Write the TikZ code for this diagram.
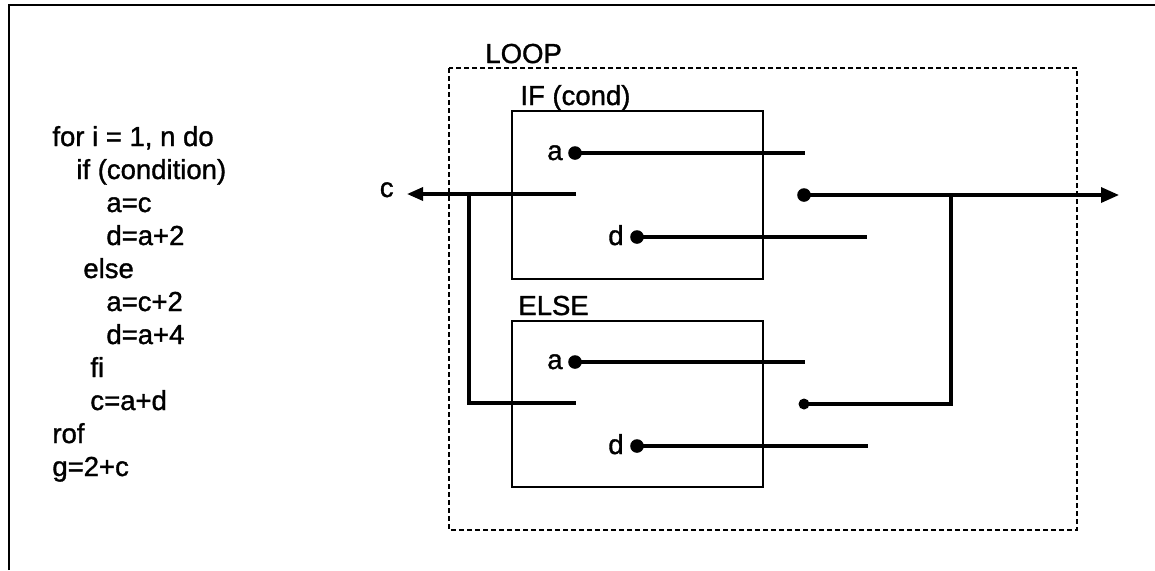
\documentclass[tikz,border=0pt]{standalone}
\usepackage{fontspec}
\setmainfont[FakeBold=1.2,AutoFakeBold=1.2]{Liberation Sans}
\usetikzlibrary{arrows.meta}
\begin{document}
\begin{tikzpicture}[x=0.5pt,y=-0.5pt,
  txt/.style={inner sep=0pt,font=\fontsize{13.75}{16}\selectfont\bfseries,anchor=base west},
  lbl/.style={txt,anchor=base east},
  wire/.style={line width=1.65pt},
  box/.style={line width=0.75pt},
  loopbox/.style={line width=0.75pt,dash pattern=on 2.5pt off 1.5pt},
  dot/.style={circle,fill,inner sep=0pt,minimum size=6.8pt},
  sdot/.style={circle,fill,inner sep=0pt,minimum size=5.5pt},
  arrL/.style={-{Triangle[length=8pt,width=6.5pt]}},
  arrR/.style={-{Triangle[length=9pt,width=7.5pt]}}
]
\useasboundingbox (0,0) rectangle (1155,570);
% outer frame (top and left edges)
\coordinate (fb) at (9,570);
\coordinate (fc) at (9,5);
\coordinate (fr) at (1155,5);
\draw[box] (fb) -- (fc) -- (fr);

% source code
\node[txt] (l1)  at (52,146) {for i = 1, n do};
\node[txt] (l2)  at (76,179) {if (condition)};
\node[txt] (l3)  at (106,212) {a=c};
\node[txt] (l4)  at (106,245) {d=a+2};
\node[txt] (l5)  at (83,278) {else};
\node[txt] (l6)  at (106,311) {a=c+2};
\node[txt] (l7)  at (106,344) {d=a+4};
\node[txt] (l8)  at (90,377) {fi};
\node[txt] (l9)  at (90,410) {c=a+d};
\node[txt] (l10) at (52,443) {rof};
\node[txt] (l11) at (52,476) {g=2+c};

% boxes
\draw[loopbox] (449,68) rectangle (1077,530);
\node[txt] (tloop) at (485,63) {LOOP};
\draw[box] (512,111) rectangle (763,279);
\node[txt] (tif) at (520,105) {IF (cond)};
\draw[box] (512,321) rectangle (763,487);
\node[txt] (telse) at (518,315) {ELSE};

% dots
\node[dot] (ia) at (575,153) {};
\node[dot] (id) at (637,237) {};
\node[dot] (ea) at (575,362) {};
\node[dot] (ed) at (637,446) {};
\node[dot] (ro) at (804,195) {};
\node[sdot] (rl) at (804,404) {};

% labels
\node[lbl] (tia) at (563,160) {a};
\node[lbl] (tid) at (624,245) {d};
\node[lbl] (tea) at (563,369) {a};
\node[lbl] (ted) at (624,454) {d};
\node[lbl] (tc)  at (394,197) {c};

% free ends
\coordinate (iaE) at (805,153);
\coordinate (idE) at (867,237);
\coordinate (eaE) at (805,362);
\coordinate (edE) at (868,446);
\coordinate (icW) at (576,194);
\coordinate (ecW) at (576,403);
\coordinate (cL)  at (407,194);
\coordinate (jl)  at (469,194);
\coordinate (jlb) at (469,403);
\coordinate (rr)  at (1119,195);
\coordinate (jr)  at (951,195);
\coordinate (jrb) at (951,404);

% wires
\draw[wire] (ia.center) -- (iaE);
\draw[wire] (id.center) -- (idE);
\draw[wire] (ea.center) -- (eaE);
\draw[wire] (ed.center) -- (edE);
\draw[wire,arrL] (icW) -- (cL);
\draw[wire] (jl) -- (jlb) -- (ecW);
\draw[wire,arrR] (ro.center) -- (rr);
\draw[wire] (jr) -- (jrb) -- (rl.center);
\end{tikzpicture}
\end{document}
